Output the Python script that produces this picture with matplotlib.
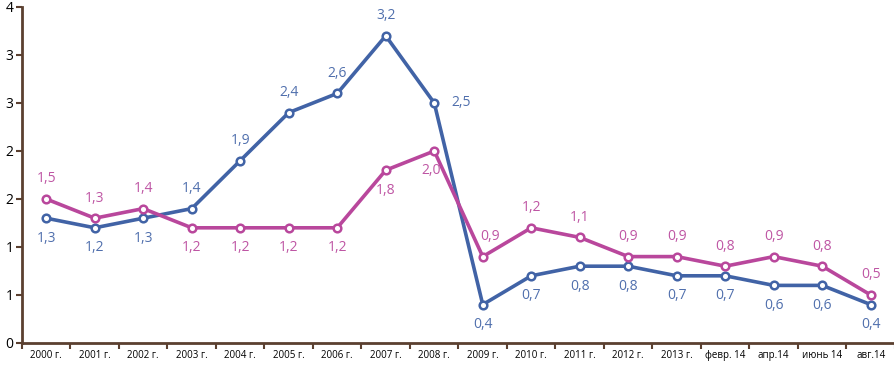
import math
import matplotlib
matplotlib.use("Agg")
import matplotlib.pyplot as plt
from matplotlib.ticker import FuncFormatter, MultipleLocator, FixedLocator

categories = ["2000 г.", "2001 г.", "2002 г.", "2003 г.", "2004 г.", "2005 г.", "2006 г.",
              "2007 г.", "2008 г.", "2009 г.", "2010 г.", "2011 г.", "2012 г.", "2013 г.",
              "февр. 14", "апр.14", "июнь 14", "авг.14"]
blue_vals = [1.3, 1.2, 1.3, 1.4, 1.9, 2.4, 2.6, 3.2, 2.5, 0.4, 0.7, 0.8, 0.8, 0.7, 0.7, 0.6, 0.6, 0.4]
pink_vals = [1.5, 1.3, 1.4, 1.2, 1.2, 1.2, 1.2, 1.8, 2.0, 0.9, 1.2, 1.1, 0.9, 0.9, 0.8, 0.9, 0.8, 0.5]

# label placement: 'a' above, 'b' below, 'r' right, 'ar' above-right, 'bl' below-left
blue_pos = ["b", "b", "b", "a", "a", "a", "a", "a", "r", "b", "b", "b", "b", "b", "b", "b", "b", "b"]
pink_pos = ["a", "a", "a", "b", "b", "b", "b", "b", "bl", "ar", "a", "a", "a", "a", "a", "a", "a", "a"]

BLUE = "#4163a6"
PINK = "#b9479c"
AXIS = "#5b4030"

plt.rcParams["font.family"] = ["Open Sans", "DejaVu Sans"]

fig = plt.figure(figsize=(8.95, 3.65), dpi=100)
ax = fig.add_axes([22 / 895, 1 - 343 / 365, 873 / 895, 336 / 365])

offsets = {
    "a": ((0, 9), "center", "bottom"),
    "b": ((0, -9), "center", "top"),
    "r": ((12, 0), "left", "center"),
    "ar": ((5, 9), "center", "bottom"),
    "bl": ((-2, -9), "center", "top"),
}

x = list(range(len(categories)))
for vals, col, pos in ((blue_vals, BLUE, blue_pos), (pink_vals, PINK, pink_pos)):
    ax.plot(x, vals, color=col, lw=2.6, marker="o", ms=5.5, mfc="white", mec=col, mew=1.8,
            zorder=3)
    for xi, v, p in zip(x, vals, pos):
        txt = f"{v:.1f}".replace(".", ",")
        off, ha, va = offsets[p]
        ax.annotate(txt, (xi, v), xytext=off, textcoords="offset points",
                    ha=ha, va=va, color=col, fontsize=10, alpha=0.92)

ax.set_xlim(-0.5, len(categories) - 0.5)
ax.set_ylim(0, 3.5)
ax.yaxis.set_major_locator(MultipleLocator(0.5))
ax.yaxis.set_major_formatter(FuncFormatter(lambda v, _: f"{math.floor(v + 0.5 + 1e-9):d}"))

ax.set_xticks(x)
ax.set_xticklabels(categories, fontsize=7)
ax.tick_params(axis="x", which="major", length=0, pad=5)
ax.xaxis.set_minor_locator(FixedLocator([i - 0.5 for i in range(len(categories) + 1)]))
ax.tick_params(axis="x", which="minor", length=4, width=1.5, color=AXIS, direction="out")
ax.tick_params(axis="y", length=4, width=1.5, color=AXIS, direction="out", labelsize=10, pad=2)

for s in ("top", "right"):
    ax.spines[s].set_visible(False)
for s in ("left", "bottom"):
    ax.spines[s].set_color(AXIS)
    ax.spines[s].set_linewidth(2)

fig.savefig("out.png", dpi=100)
